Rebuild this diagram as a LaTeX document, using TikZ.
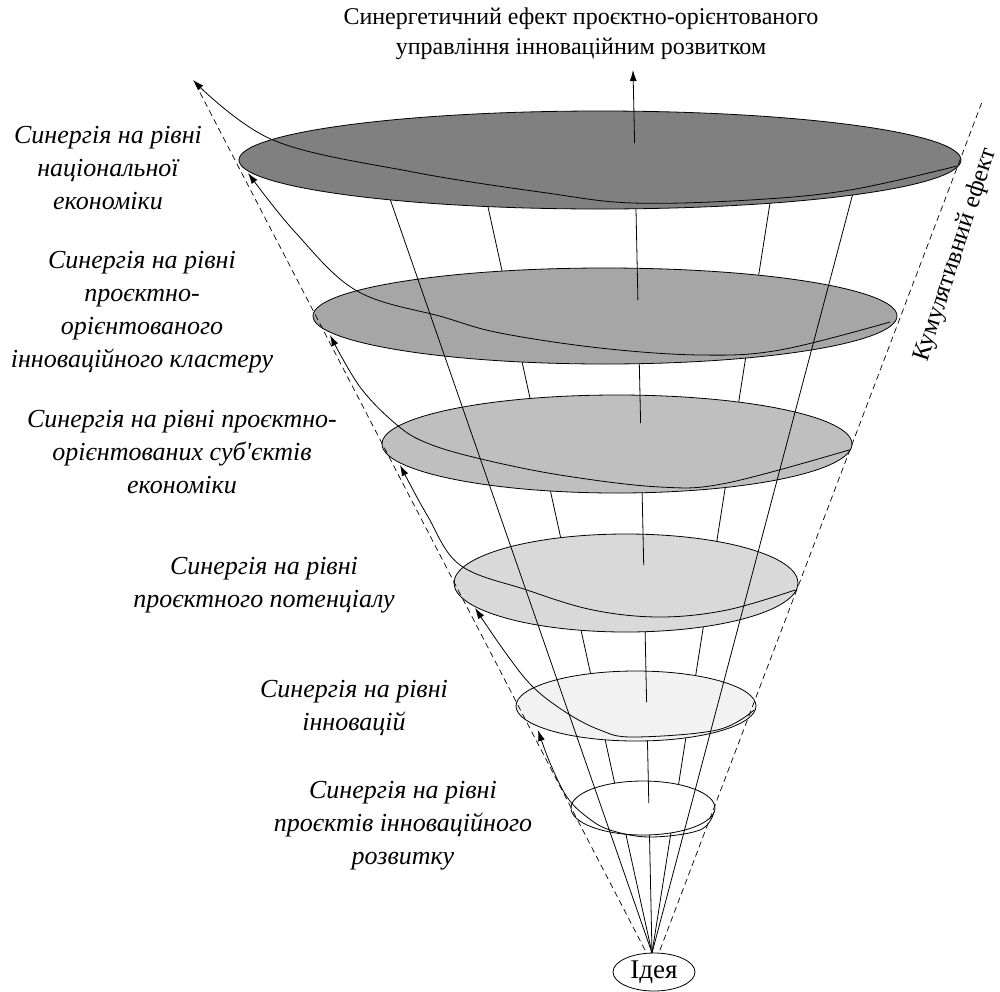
\documentclass[tikz,border=0pt]{standalone}
\usepackage{fontspec}
\setmainfont{Liberation Serif}
\usetikzlibrary{arrows.meta,shapes.geometric}
\definecolor{g1}{HTML}{808080}
\definecolor{g2}{HTML}{A6A6A6}
\definecolor{g3}{HTML}{BFBFBF}
\definecolor{g4}{HTML}{D9D9D9}
\definecolor{g5}{HTML}{F2F2F2}
\begin{document}
\begin{tikzpicture}[x=1pt,y=-1pt, line width=0.8pt,
  lbl/.style={font=\fontsize{26}{33}\selectfont\itshape, align=center, inner sep=0pt},
  arr/.style={-{Latex[length=11pt,width=7pt]}},
  dsh/.style={dash pattern=on 6pt off 4pt, line width=0.7pt},
  disc/.style={draw, line width=0.8pt}]
\useasboundingbox (0,0) rectangle (1000,991);

\node[draw, ellipse, fill=white, minimum width=82pt, minimum height=38pt, inner sep=0pt,
      font=\fontsize{27}{30}\selectfont] (idea) at (654,972) {Ідея};
\coordinate (apex) at (652,953);

% hidden spokes
\draw (apex) -- (488,207);
\draw (apex) -- (770,203);
\draw (apex) -- (648.8,803);

% discs from bottom to top with central axis segments
\draw[disc, fill=white] (643,808) ellipse [x radius=72, y radius=27];
\draw (648.8,803) -- (646.6,702);
\draw[disc, fill=g5] (636,706) ellipse [x radius=120, y radius=35];
\draw (646.6,702) -- (643.7,565);
\draw[disc, fill=g4] (626,583) ellipse [x radius=172, y radius=49];
\draw (643.7,565) -- (640.6,423);
\draw[disc, fill=g3] (617,444) ellipse [x radius=235, y radius=49];
\draw (640.6,423) -- (637.9,300);
\draw[disc, fill=g2] (605,316) ellipse [x radius=292, y radius=48];
\draw (637.9,300) -- (634.6,143);

% visible spokes
\draw (apex) -- (389,196);
\draw (apex) -- (853,193);

\draw[disc, fill=g1] (600,160) ellipse [x radius=361, y radius=49];
\draw[arr] (634.6,143) -- (633,70);

% spiral arrows
\draw[arr] plot[smooth, tension=0.6] coordinates {(714,812) (700,830) (650,837) (610,830) (587,817) (567,797) (550,763) (538,730)};
\draw[arr] plot[smooth, tension=0.6] coordinates {(754,710) (717,730) (633,737) (600,730) (567,713) (533,687) (505,652) (475,608)};
\draw[arr] plot[smooth, tension=0.6] coordinates {(795,590) (727,610) (660,617) (593,610) (527,590) (460,565) (427,515) (400,465)};
\draw[arr] plot[smooth, tension=0.6] coordinates {(849,450) (727,483) (660,487) (560,475) (477,458) (427,443) (397,425) (360,387) (330,335)};
\draw[arr] plot[smooth, tension=0.6] coordinates {(890,322) (780,350) (700,355) (600,348) (500,333) (443,317) (357,291) (295,232) (248,173)};
\draw[arr] plot[smooth, tension=0.6] coordinates {(957,166) (850,190) (750,200) (633,203) (547,193) (413,172) (273,140) (193,80)};

% cone boundary
\draw[dsh] (645,950) -- (195,83);
\draw[dsh] (660,950) -- (982,102);

% texts
\node[font=\fontsize{24}{30}\selectfont, align=center, inner sep=0pt] (title) at (581,34)
  {Синергетичний ефект проєктно-орієнтованого\\управління інноваційним розвитком};
\node[font=\fontsize{25}{30}\selectfont, rotate=72, inner sep=0pt] (cum) at (956,255) {Кумулятивний ефект};

\node[lbl] (l1) at (108,168) {Синергія на рівні\\національної\\економіки};
\node[lbl] (l2) at (142,312) {Синергія на рівні\\проєктно-\\орієнтованого\\інноваційного кластеру};
\node[lbl] (l3) at (182,452) {Синергія на рівні проєктно-\\орієнтованих суб\textquotesingle єктів\\економіки};
\node[lbl] (l4) at (264,585) {Синергія на рівні\\проєктного потенціалу};
\node[lbl] (l5) at (354,708) {Синергія на рівні\\інновацій};
\node[lbl] (l6) at (403,826) {Синергія на рівні\\проєктів інноваційного\\розвитку};
\end{tikzpicture}
\end{document}
